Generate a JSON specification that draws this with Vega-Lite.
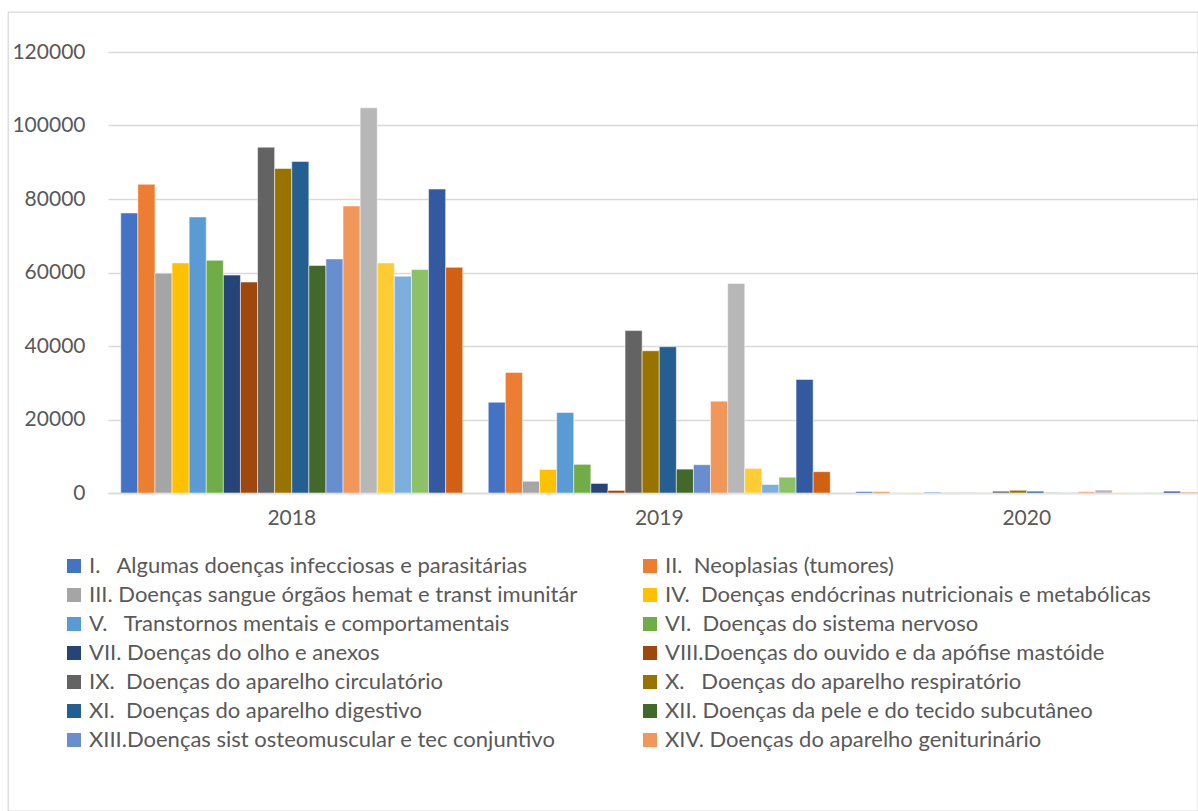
{
  "$schema": "https://vega.github.io/schema/vega-lite/v6.json",
  "width": 1190,
  "height": 799,
  "autosize": {"type": "none"},
  "padding": {"left": 8, "top": 12, "right": 0, "bottom": 0},
  "background": "#ffffff",
  "config": {
    "font": "Lato",
    "view": {"stroke": "#d9d9d9", "strokeWidth": 1.3}
  },
  "datasets": {
    "causas": [
      {"n": 1, "causa": "I.\u00a0\u00a0 Algumas doenças infecciosas e parasitárias"},
      {"n": 2, "causa": "II.\u00a0 Neoplasias (tumores)"},
      {"n": 3, "causa": "III. Doenças sangue órgãos hemat e transt imunitár"},
      {"n": 4, "causa": "IV.\u00a0 Doenças endócrinas nutricionais e metabólicas"},
      {"n": 5, "causa": "V.\u00a0\u00a0 Transtornos mentais e comportamentais"},
      {"n": 6, "causa": "VI.\u00a0 Doenças do sistema nervoso"},
      {"n": 7, "causa": "VII. Doenças do olho e anexos"},
      {"n": 8, "causa": "VIII.Doenças do ouvido e da apófise mastóide"},
      {"n": 9, "causa": "IX.\u00a0 Doenças do aparelho circulatório"},
      {"n": 10, "causa": "X.\u00a0\u00a0 Doenças do aparelho respiratório"},
      {"n": 11, "causa": "XI.\u00a0 Doenças do aparelho digestivo"},
      {"n": 12, "causa": "XII. Doenças da pele e do tecido subcutâneo"},
      {"n": 13, "causa": "XIII.Doenças sist osteomuscular e tec conjuntivo"},
      {"n": 14, "causa": "XIV. Doenças do aparelho geniturinário"},
      {"n": 15, "causa": "XV.\u00a0 Gravidez parto e puerpério"},
      {"n": 16, "causa": "XVI. Algumas afec originadas no período perinatal"},
      {"n": 17, "causa": "XVII.Malf cong deformid e anomalias cromossômicas"},
      {"n": 18, "causa": "XVIII.Sint sinais e achad anorm ex clín e laborat"},
      {"n": 19, "causa": "XIX. Lesões enven e alg out conseq causas externas"},
      {"n": 20, "causa": "XX.\u00a0 Causas externas de morbidade e mortalidade"}
    ],
    "internacoes": [
      {"ano": "2018", "n": 1, "valor": 76200},
      {"ano": "2018", "n": 2, "valor": 84000},
      {"ano": "2018", "n": 3, "valor": 59800},
      {"ano": "2018", "n": 4, "valor": 62600},
      {"ano": "2018", "n": 5, "valor": 75100},
      {"ano": "2018", "n": 6, "valor": 63300},
      {"ano": "2018", "n": 7, "valor": 59300},
      {"ano": "2018", "n": 8, "valor": 57400},
      {"ano": "2018", "n": 9, "valor": 94100},
      {"ano": "2018", "n": 10, "valor": 88300},
      {"ano": "2018", "n": 11, "valor": 90200},
      {"ano": "2018", "n": 12, "valor": 61900},
      {"ano": "2018", "n": 13, "valor": 63700},
      {"ano": "2018", "n": 14, "valor": 78100},
      {"ano": "2018", "n": 15, "valor": 104800},
      {"ano": "2018", "n": 16, "valor": 62600},
      {"ano": "2018", "n": 17, "valor": 59000},
      {"ano": "2018", "n": 18, "valor": 60800},
      {"ano": "2018", "n": 19, "valor": 82700},
      {"ano": "2018", "n": 20, "valor": 61400},
      {"ano": "2019", "n": 1, "valor": 24700},
      {"ano": "2019", "n": 2, "valor": 32800},
      {"ano": "2019", "n": 3, "valor": 3200},
      {"ano": "2019", "n": 4, "valor": 6400},
      {"ano": "2019", "n": 5, "valor": 21900},
      {"ano": "2019", "n": 6, "valor": 7800},
      {"ano": "2019", "n": 7, "valor": 2600},
      {"ano": "2019", "n": 8, "valor": 700},
      {"ano": "2019", "n": 9, "valor": 44200},
      {"ano": "2019", "n": 10, "valor": 38700},
      {"ano": "2019", "n": 11, "valor": 39800},
      {"ano": "2019", "n": 12, "valor": 6500},
      {"ano": "2019", "n": 13, "valor": 7700},
      {"ano": "2019", "n": 14, "valor": 25000},
      {"ano": "2019", "n": 15, "valor": 57000},
      {"ano": "2019", "n": 16, "valor": 6700},
      {"ano": "2019", "n": 17, "valor": 2300},
      {"ano": "2019", "n": 18, "valor": 4300},
      {"ano": "2019", "n": 19, "valor": 30900},
      {"ano": "2019", "n": 20, "valor": 5800},
      {"ano": "2020", "n": 1, "valor": 400},
      {"ano": "2020", "n": 2, "valor": 350},
      {"ano": "2020", "n": 3, "valor": 50},
      {"ano": "2020", "n": 4, "valor": 80},
      {"ano": "2020", "n": 5, "valor": 250},
      {"ano": "2020", "n": 6, "valor": 100},
      {"ano": "2020", "n": 7, "valor": 60},
      {"ano": "2020", "n": 8, "valor": 30},
      {"ano": "2020", "n": 9, "valor": 500},
      {"ano": "2020", "n": 10, "valor": 750},
      {"ano": "2020", "n": 11, "valor": 500},
      {"ano": "2020", "n": 12, "valor": 100},
      {"ano": "2020", "n": 13, "valor": 80},
      {"ano": "2020", "n": 14, "valor": 350},
      {"ano": "2020", "n": 15, "valor": 800},
      {"ano": "2020", "n": 16, "valor": 100},
      {"ano": "2020", "n": 17, "valor": 60},
      {"ano": "2020", "n": 18, "valor": 80},
      {"ano": "2020", "n": 19, "valor": 500},
      {"ano": "2020", "n": 20, "valor": 200}
    ]
  },
  "data": {"name": "internacoes"},
  "transform": [
    {"lookup": "n", "from": {"data": {"name": "causas"}, "key": "n", "fields": ["causa"]}}
  ],
  "mark": {"type": "bar", "stroke": "#ffffff", "strokeWidth": 0.5},
  "encoding": {
    "x": {
      "field": "ano",
      "type": "nominal",
      "scale": {"range": [100, 1202.5], "paddingInner": 0.0694, "paddingOuter": 0.0347},
      "axis": {
        "title": null,
        "offset": -318,
        "domain": true,
        "domainColor": "#d9d9d9",
        "domainWidth": 1.3,
        "ticks": false,
        "grid": false,
        "labelAngle": 0,
        "labelFontSize": 21,
        "labelColor": "#595959",
        "labelPadding": 14
      }
    },
    "xOffset": {
      "field": "n",
      "type": "ordinal",
      "scale": {"paddingInner": 0, "paddingOuter": 0}
    },
    "y": {
      "field": "valor",
      "type": "quantitative",
      "scale": {"domain": [0, 120000], "range": [481, 40]},
      "axis": {
        "title": null,
        "values": [0, 20000, 40000, 60000, 80000, 100000, 120000],
        "format": "d",
        "domain": false,
        "ticks": false,
        "labelPadding": -77,
        "labelFontSize": 21,
        "labelColor": "#595959",
        "gridColor": "#d9d9d9",
        "gridWidth": 1.3
      }
    },
    "color": {
      "field": "causa",
      "type": "nominal",
      "scale": {
        "domain": [
          "I.\u00a0\u00a0 Algumas doenças infecciosas e parasitárias",
          "II.\u00a0 Neoplasias (tumores)",
          "III. Doenças sangue órgãos hemat e transt imunitár",
          "IV.\u00a0 Doenças endócrinas nutricionais e metabólicas",
          "V.\u00a0\u00a0 Transtornos mentais e comportamentais",
          "VI.\u00a0 Doenças do sistema nervoso",
          "VII. Doenças do olho e anexos",
          "VIII.Doenças do ouvido e da apófise mastóide",
          "IX.\u00a0 Doenças do aparelho circulatório",
          "X.\u00a0\u00a0 Doenças do aparelho respiratório",
          "XI.\u00a0 Doenças do aparelho digestivo",
          "XII. Doenças da pele e do tecido subcutâneo",
          "XIII.Doenças sist osteomuscular e tec conjuntivo",
          "XIV. Doenças do aparelho geniturinário",
          "XV.\u00a0 Gravidez parto e puerpério",
          "XVI. Algumas afec originadas no período perinatal",
          "XVII.Malf cong deformid e anomalias cromossômicas",
          "XVIII.Sint sinais e achad anorm ex clín e laborat",
          "XIX. Lesões enven e alg out conseq causas externas",
          "XX.\u00a0 Causas externas de morbidade e mortalidade"
        ],
        "range": [
          "#4472C4", "#ED7D31", "#A5A5A5", "#FFC000", "#5B9BD5",
          "#70AD47", "#264478", "#9E480E", "#636363", "#997300",
          "#255E91", "#43682B", "#698ED0", "#F1975A", "#B7B7B7",
          "#FFCD33", "#7CAFDD", "#8CC168", "#335AA1", "#D26012"
        ]
      },
      "legend": {
        "title": null,
        "orient": "none",
        "legendX": 55,
        "legendY": 543,
        "columns": 2,
        "gridAlign": "all",
        "padding": 0,
        "values": [
          "I.\u00a0\u00a0 Algumas doenças infecciosas e parasitárias",
          "III. Doenças sangue órgãos hemat e transt imunitár",
          "V.\u00a0\u00a0 Transtornos mentais e comportamentais",
          "VII. Doenças do olho e anexos",
          "IX.\u00a0 Doenças do aparelho circulatório",
          "XI.\u00a0 Doenças do aparelho digestivo",
          "XIII.Doenças sist osteomuscular e tec conjuntivo",
          "II.\u00a0 Neoplasias (tumores)",
          "IV.\u00a0 Doenças endócrinas nutricionais e metabólicas",
          "VI.\u00a0 Doenças do sistema nervoso",
          "VIII.Doenças do ouvido e da apófise mastóide",
          "X.\u00a0\u00a0 Doenças do aparelho respiratório",
          "XII. Doenças da pele e do tecido subcutâneo",
          "XIV. Doenças do aparelho geniturinário"
        ],
        "symbolType": "square",
        "symbolSize": 196,
        "symbolStrokeWidth": 0,
        "symbolOpacity": 1,
        "labelFontSize": 22,
        "labelColor": "#595959",
        "labelLimit": 700,
        "labelOffset": 4,
        "rowPadding": 7,
        "columnPadding": 61
      }
    }
  }
}
